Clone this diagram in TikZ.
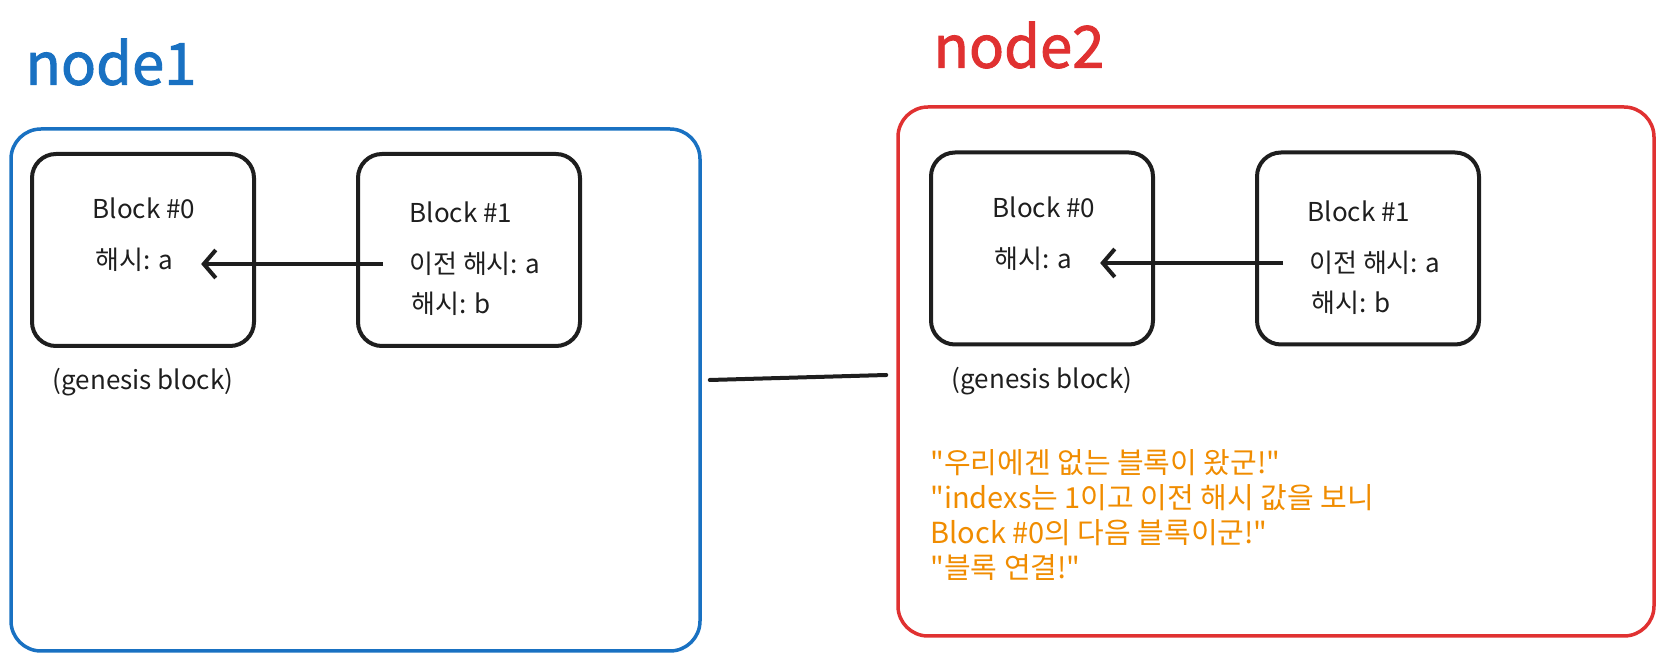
\documentclass[tikz,border=0pt]{standalone}
\usepackage{fontspec}
\setmainfont{Noto Sans CJK KR}
\newfontfamily\titlefont{Noto Sans CJK KR}[FakeBold=1.6]
\usepackage{tikz}
\usetikzlibrary{arrows.meta, positioning, fit}
\usepackage{xcolor}
\definecolor{netblue}{HTML}{1971C2}
\definecolor{netred}{HTML}{E03131}
\definecolor{noteorange}{HTML}{F08C00}
\definecolor{ink}{HTML}{1E1E1E}

\tikzset{
  netbox/.style={line width=1.75pt, rounded corners=15pt, inner sep=0pt},
  block/.style={draw=ink, line width=2pt, rounded corners=12pt, minimum width=111pt, minimum height=96pt},
  txt/.style={inner sep=0pt, text=ink, font=\fontsize{13}{15}\selectfont},
  link/.style={draw=ink, line width=2pt, -{Straight Barb[length=6pt, width=14pt]}},
}

\begin{document}
\begin{tikzpicture}[x=0.5pt, y=-0.5pt]
            \useasboundingbox (0,0) rectangle (1662,662);

            % node1
            \node[text=netblue, font=\fontsize{29}{32}\titlefont] (title1) at (111,62) {node1};
            \node[netbox, draw=netblue, fit={(11,129) (700,651)}] (net1) {};
            \node[block] (n1b0) at (143,250) {};
            \node[block, right=50pt of n1b0] (n1b1) {};
            \node[txt] (n1b0name) at (144,208) {Block \#0};
            \node[txt] (n1b0hash) at (134,260) {해시: a};
            \node[txt] (n1b1name) at (461,212) {Block \#1};
            \node[txt, anchor=west] (n1b1prev) at (409,264) {이전 해시: a};
            \node[txt, anchor=west] (n1b1hash) at (411,304) {해시: b};
            \node[txt, below=10pt of n1b0] (n1gen) {(genesis block)};
            \path [link, shorten <=13pt, shorten >=14pt] (n1b1prev.west) -- (n1b0hash.east |- n1b1prev.west);

            % node2
            \node[text=netred, font=\fontsize{29}{32}\titlefont] (title2) at (1019,45) {node2};
            \node[netbox, draw=netred, fit={(898,107) (1654,636)}] (net2) {};
            \node[block] (n2b0) at (1042,248.5) {};
            \node[block, right=50pt of n2b0] (n2b1) {};
            \node[txt] (n2b0name) at (1044,207) {Block \#0};
            \node[txt] (n2b0hash) at (1033,259) {해시: a};
            \node[txt] (n2b1name) at (1359,211) {Block \#1};
            \node[txt, anchor=west] (n2b1prev) at (1309,263) {이전 해시: a};
            \node[txt, anchor=west] (n2b1hash) at (1311,303) {해시: b};
            \node[txt, below=10pt of n2b0] (n2gen) {(genesis block)};
            \path [link, shorten <=13pt, shorten >=14pt] (n2b1prev.west) -- (n2b0hash.east |- n2b1prev.west);

            \node[inner sep=0pt, anchor=west, align=left, text=noteorange, font=\fontsize{14.5}{17.5}\selectfont] (note) at (930,515.5)
              {\textquotedbl 우리에겐 없는 블록이 왔군!\textquotedbl\\
               \textquotedbl indexs는 1이고 이전 해시 값을 보니\\
               Block \#0의 다음 블록이군!\textquotedbl\\
               \textquotedbl 블록 연결!\textquotedbl};

            % link between the two nodes
            \draw[ink, line width=2pt, line cap=round] ([shift={(8,-10)}]net1.east) -- ([shift={(-10,3.5)}]net2.west);
        \end{tikzpicture}
\end{document}
